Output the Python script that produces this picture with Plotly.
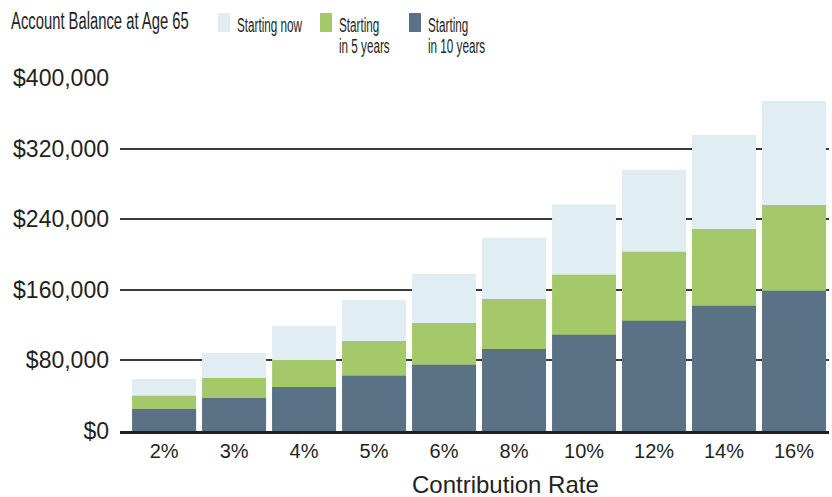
import plotly.graph_objects as go

# ---- data ----
categories = ["2%", "3%", "4%", "5%", "6%", "8%", "10%", "12%", "14%", "16%"]
starting_now = [59000, 88500, 119000, 148500, 178000, 219000, 257000, 296000, 335500, 374000]
starting_5yr = [40000, 60000, 80500, 102000, 122500, 149500, 177000, 203000, 229000, 256000]
starting_10yr = [25000, 37500, 50000, 62500, 75000, 93000, 109000, 125000, 142000, 159000]
series_names = ["Starting now", "Starting\nin 5 years", "Starting\nin 10 years"]
y_tick_values = [0, 80000, 160000, 240000, 320000, 400000]
chart_title = "Account Balance at Age 65"
x_title = "Contribution Rate"

# ---- style ----
colors = ["#E0EDF3", "#A5C86B", "#5B7186"]
FONT = "Liberation Sans, Arial, Helvetica, sans-serif"
TXT = "#231f20"
W, H = 832, 497
L, R, T, B = 120, 829, 78, 431  # plot area in pixels


def px_x(px):
    return (px - L) / (R - L)


def px_y(py):
    return (B - py) / (B - T)


fig = go.Figure()
for name, vals, col in zip(series_names, [starting_now, starting_5yr, starting_10yr], colors):
    fig.add_trace(go.Bar(
        x=categories, y=vals, name=name.replace("\n", " "),
        marker=dict(color=col, line=dict(width=0)), showlegend=False,
    ))

annotations = []
shapes = []
# title
annotations.append(dict(text=chart_title, xref="paper", yref="paper", x=px_x(10), y=px_y(21),
                        xanchor="left", yanchor="middle", showarrow=False, borderpad=0,
                        font=dict(size=23.5, color=TXT, family=FONT)))
# legend
legend_x = [218, 320, 409]
for name, col, lx in zip(series_names, colors, legend_x):
    shapes.append(dict(type="rect", xref="paper", yref="paper", x0=px_x(lx), x1=px_x(lx + 12),
                       y0=px_y(32), y1=px_y(13), fillcolor=col, line=dict(width=0)))
    for i, line in enumerate(name.split("\n")):
        annotations.append(dict(text=line, xref="paper", yref="paper", x=px_x(lx + 18),
                                y=px_y(24.5 + 21.5 * i), xanchor="left", yanchor="middle",
                                showarrow=False, borderpad=0,
                                font=dict(size=19.5, color=TXT, family=FONT)))
# x axis title
annotations.append(dict(text=x_title, xref="paper", yref="paper", x=px_x(505), y=px_y(484),
                        xanchor="center", yanchor="middle", showarrow=False,
                        font=dict(size=24, color=TXT, family=FONT)))

fig.update_layout(
    width=W, height=H,
    margin=dict(l=L, r=W - R, t=T, b=H - B, pad=0),
    paper_bgcolor="white", plot_bgcolor="white",
    barmode="overlay", bargap=0.086,
    font=dict(family=FONT, color=TXT),
    annotations=annotations, shapes=shapes,
    xaxis=dict(
        type="category", range=[-0.63, 9.5],
        showline=True, linecolor="#231f20", linewidth=2.5,
        showgrid=False, ticks="", tickfont=dict(size=20, color=TXT),
        ticklabelstandoff=0, fixedrange=True,
    ),
    yaxis=dict(
        range=[0, 400000], tickvals=y_tick_values, tickformat="$,.0f",
        showgrid=True, gridcolor="#3a3a3a", gridwidth=1.5,
        zeroline=False, showline=False, ticks="",
        tickfont=dict(size=23, color=TXT), ticklabelstandoff=10, fixedrange=True,
    ),
)

# condensed look of the title / legend labels (horizontal scale only)
post = """
var gd = document.getElementById('{plot_id}');
var ratios = {'%s': 0.63, 'Starting now': 0.6, 'Starting': 0.6, 'in 5 years': 0.6, 'in 10 years': 0.6};
function squeeze(){
  gd.querySelectorAll('text.annotation-text').forEach(function(t){
    var s = t.textContent;
    if (ratios.hasOwnProperty(s) && !t.getAttribute('data-sq')) {
      var w = t.getComputedTextLength();
      var r = ratios[s];
      var anchor = t.getAttribute('text-anchor') || window.getComputedStyle(t).textAnchor;
      var x = parseFloat(t.getAttribute('x') || '0');
      var left = x;
      if (anchor === 'middle') left = x - w / 2;
      else if (anchor === 'end') left = x - w;
      t.setAttribute('transform', 'translate(' + left.toFixed(2) + ',0) scale(' + r + ',1) translate(' + (-left).toFixed(2) + ',0)');
      t.setAttribute('data-sq', '1');
      var p = t.parentNode;
      if (p) {
        p.querySelectorAll('rect').forEach(function(rc){
          var rw = parseFloat(rc.getAttribute('width') || '0');
          if (rw > 0) rc.setAttribute('width', Math.max(0, rw - w * (1 - r)).toFixed(1));
        });
      }
    }
  });
}
squeeze();
setTimeout(squeeze, 50);
""" % chart_title

fig.write_html("out.html", post_script=post, config={"displayModeBar": False})
